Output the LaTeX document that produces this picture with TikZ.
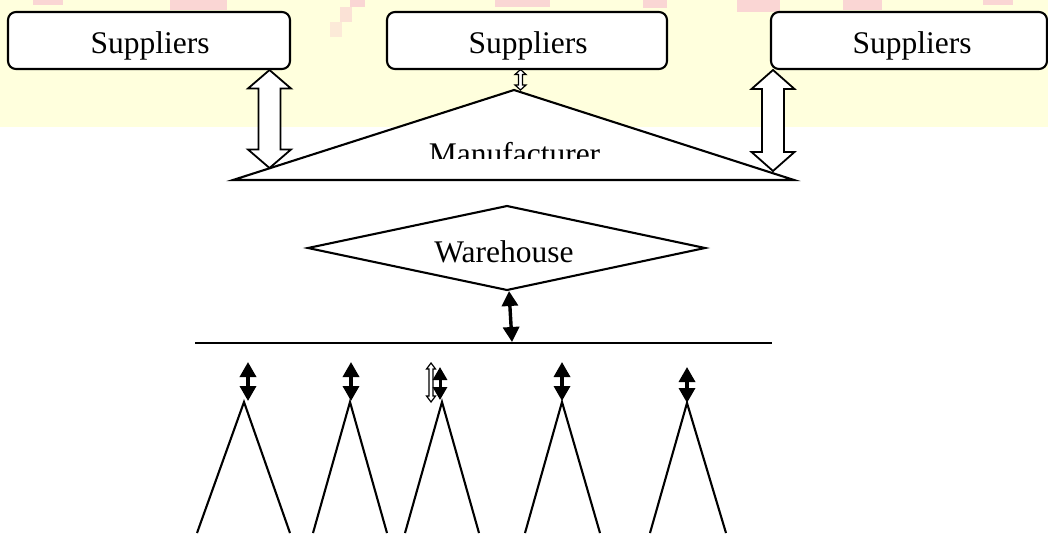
\documentclass[tikz,border=0pt]{standalone}
\usepackage{fontspec}
\setmainfont{Liberation Serif}
\usetikzlibrary{arrows.meta,calc}
\definecolor{bandyellow}{RGB}{255,255,221}
\definecolor{blotch}{RGB}{250,214,212}
\tikzset{
  supbox/.style={draw, line width=2.1pt, rounded corners=8pt, fill=white, inner sep=0pt},
  lbl/.style={anchor=base, inner sep=0pt, font=\fontsize{31.5}{36}\selectfont},
  shapeline/.style={draw, line width=2.1pt, line join=miter, fill=white},
  hollow/.style={draw, line width=1.8pt, fill=white, line join=miter},
  hollowthin/.style={draw, line width=1.2pt, fill=white, line join=miter},
  blk/.style={line width=3.4pt, {Triangle[width=16pt,length=15pt]}-{Triangle[width=16pt,length=15pt]}},
  blksmall/.style={line width=3pt, {Triangle[width=14pt,length=13pt]}-{Triangle[width=14pt,length=13pt]}},
  tentline/.style={line width=2.1pt},
  distline/.style={line width=2.4pt},
  blob/.style={fill=blotch, draw=none},
}
% hollow double block arrow between two named coordinates (vertical)
% #1 style, #2 top tip, #3 bottom tip, #4 head half width, #5 shaft half width, #6 head length
\newcommand{\hollowarrow}[6]{%
  \draw[#1] (#2) -- ($(#2)+(#4,#6)$) -- ($(#2)+(#5,#6)$) -- ($(#3)+(#5,-#6)$)
    -- ($(#3)+(#4,-#6)$) -- (#3) -- ($(#3)+(-#4,-#6)$) -- ($(#3)+(-#5,-#6)$)
    -- ($(#2)+(-#5,#6)$) -- ($(#2)+(-#4,#6)$) -- cycle;}
\begin{document}
\begin{tikzpicture}[x=1pt,y=-1pt]
\useasboundingbox (0,0) rectangle (1048,533);
% background
\fill[white] (0,0) rectangle (1048,533);
\fill[bandyellow] (0,0) rectangle (1048,127);
% faint watermark blotches
\fill[blob] (33,0) rectangle (63,5);
\fill[blob] (170,0) rectangle (227,10);
\fill[blob] (350,0) rectangle (365,7);
\fill[blob,opacity=0.7] (340,7) rectangle (352,22);
\fill[blob,opacity=0.5] (330,22) rectangle (342,37);
\fill[blob] (495,0) rectangle (550,7);
\fill[blob] (643,0) rectangle (667,8);
\fill[blob] (737,0) rectangle (780,12);
\fill[blob] (843,0) rectangle (882,10);
\fill[blob] (983,0) rectangle (1013,5);

% suppliers
\node[supbox, minimum width=282pt, minimum height=57pt] (sup1) at (149,40.5) {};
\node[supbox, minimum width=280pt, minimum height=57pt] (sup2) at (527,40.5) {};
\node[supbox, minimum width=276pt, minimum height=57pt] (sup3) at (909,40.5) {};
\node[lbl] (sup1t) at (150,53) {Suppliers};
\node[lbl] (sup2t) at (528,53) {Suppliers};
\node[lbl] (sup3t) at (912,53) {Suppliers};

% manufacturer triangle
\coordinate (mApex) at (514,90);
\coordinate (mLeft) at (233,180);
\coordinate (mRight) at (794,180);
\path[shapeline] (mApex) -- (mRight) -- (mLeft) -- cycle;
\begin{scope}
  \clip (0,0) rectangle (1048,158);
  \node[lbl] (manu) at (514.5,164) {Manufacturer};
\end{scope}

% hollow arrows suppliers <-> manufacturer
\coordinate (h1a) at (269.5,70);
\coordinate (h1b) at (269.5,168);
\coordinate (h2a) at (520.5,69.5);
\coordinate (h2b) at (520.5,90);
\coordinate (h3a) at (773,70);
\coordinate (h3b) at (773,171);
\hollowarrow{hollow}{h1a}{h1b}{21.5}{11}{18.5}
\hollowarrow{hollowthin}{h2a}{h2b}{5.5}{2}{5}
\hollowarrow{hollow}{h3a}{h3b}{21.5}{11}{19}

% warehouse diamond
\coordinate (wTop) at (507,206);
\coordinate (wLeft) at (308,248);
\coordinate (wRight) at (705,248);
\coordinate (wBot) at (507,290);
\path[shapeline] (wTop) -- (wRight) -- (wBot) -- (wLeft) -- cycle;
\node[lbl] (wh) at (504,262) {Warehouse};

% distribution line
\coordinate (dL) at (195,343);
\coordinate (dR) at (772,343);
\draw[distline] (dL) -- (dR);
\coordinate (wa1) at (509,291);
\coordinate (wa2) at (512,342);
\draw[blk] (wa1) -- (wa2);

% tents
\foreach \n/\ax/\ay/\lx/\rx in {1/244/402/197/290, 2/350/402/313/387, 3/442/402/405/479, 4/562/402/525/600, 5/687/403/650/726}{
  \coordinate (t\n apex) at (\ax,\ay);
  \coordinate (t\n l) at (\lx,533);
  \coordinate (t\n r) at (\rx,533);
  \draw[tentline, line join=miter] (t\n l) -- (t\n apex) -- (t\n r);
}

% small arrows to tents
\coordinate (a1t) at (248,362); \coordinate (a1b) at (248,401);
\coordinate (a2t) at (351,362); \coordinate (a2b) at (351,401);
\coordinate (a3t) at (440,367); \coordinate (a3b) at (440,400);
\coordinate (a4t) at (562,362); \coordinate (a4b) at (562,401);
\coordinate (a5t) at (687,367); \coordinate (a5b) at (687,403);
\coordinate (hs1) at (431,363); \coordinate (hs2) at (431,402);
\hollowarrow{hollowthin}{hs1}{hs2}{4.5}{2}{6}
\draw[blk] (a1t) -- (a1b);
\draw[blk] (a2t) -- (a2b);
\draw[blksmall] (a3t) -- (a3b);
\draw[blk] (a4t) -- (a4b);
\draw[blk] (a5t) -- (a5b);
\end{tikzpicture}
\end{document}
